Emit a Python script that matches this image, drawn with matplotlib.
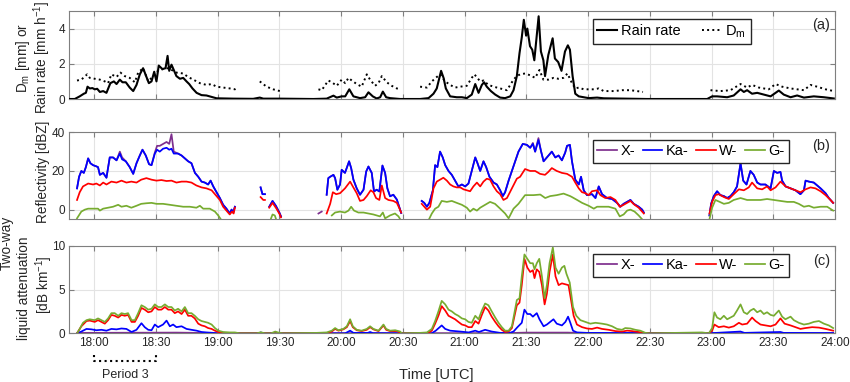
#!/usr/bin/env python3
"""
Rain rate / Dm, reflectivity and two-way liquid attenuation, 17:48-24:00 UTC.
Three stacked panels in the MATLAB look of the original figure.
"""
import numpy as np
import matplotlib
matplotlib.use("Agg")
import matplotlib.pyplot as plt
import matplotlib.transforms as mtransforms

plt.rcParams["font.family"] = ["Liberation Sans", "DejaVu Sans"]
plt.rcParams["mathtext.default"] = "regular"

N = np.nan

# ── Data: [minutes after 18:00 UTC, value], NaN rows break the line ──────
rain_rate = np.array([
    (-12.3, 0), (-9.4, 0), (-7, 0.15), (-5, 0.3), (-4, 0.35), (-3.2, 0.7), (-2.1, 0.6),
    (-0.8, 0.62), (0.3, 0.55), (1.5, 0.58), (2.8, 0.4), (4.4, 0.45), (6, 0.35), (7.9, 0.9),
    (9.6, 1.0), (10.9, 0.85), (12.5, 1.1), (13.8, 0.95), (15.4, 0.95), (17.3, 0.65),
    (19, 0.45), (20.6, 0.8), (22.2, 1.4), (23.8, 1.75), (25.1, 1.35), (26.6, 0.9),
    (27.9, 1.0), (29.2, 1.55), (30.3, 1.0), (31.4, 1.9), (33.2, 1.7), (34.7, 1.75),
    (35.7, 2.45), (36.5, 1.6), (37.6, 1.95), (38.7, 1.65), (40, 1.3), (41.7, 1.15),
    (43.3, 1.2), (44.9, 1.0), (46.2, 0.85), (47.8, 0.6), (49.8, 0.35), (52.2, 0.22),
    (54.6, 0.2), (57.1, 0.12), (59.5, 0.04), (67.6, 0.02), (77.3, 0.01), (80.5, 0.08),
    (82.2, 0.02), (90.3, 0.02), (106.5, 0), (113, 0.02), (116.3, 0.19), (117.9, 0.08),
    (120.3, 0.15), (122, 0.15), (124, 0.55), (126, 0.15), (129.2, 0.05), (131.7, 0.1),
    (133.3, 0.38), (135.4, 0.15), (137.3, 0.03), (139, 0.1), (140.3, 0.42), (141.9, 0.1),
    (143.8, 0.05), (148.7, 0), (158.4, 0), (162.5, 0.05), (164.9, 0.3), (166.5, 0.6),
    (168.6, 1.6), (169.8, 1.2), (170.9, 0.6), (173, 0.15), (176.2, 0.1), (178.7, 0.1),
    (181.1, 0.05), (183.5, 0.25), (185.2, 0.85), (186.8, 0.35), (188.4, 0.8), (189.5, 0.95),
    (190.8, 0.7), (192.8, 0.45), (194.9, 0.25), (197.3, 0.08), (199.7, 0.05), (202.2, 0.15),
    (203.8, 0.5), (205.4, 1.3), (206.7, 2.6), (207.8, 3.5), (208.8, 4.5), (209.9, 3.6),
    (210.5, 4.0), (211.8, 3.0), (212.9, 2.8), (213.9, 2.2), (215, 3.5), (216, 4.7),
    (217.1, 2.7), (218.3, 2.2), (219.1, 1.3), (220.7, 2.5), (222.8, 3.45), (223.9, 2.3),
    (225.5, 2.1), (227.1, 1.6), (228.8, 2.7), (230.2, 3.05), (231.2, 2.8), (232.5, 1.3),
    (233.8, 0.3), (235.5, 0.15), (237.9, 0.1), (240.3, 0.05), (244.4, 0.08), (247.6, 0.04),
    (252.5, 0.03), (259, 0.02), (268.7, 0), (297.9, 0), (300.3, 0.15), (302.7, 0.15),
    (307.6, 0.1), (310.8, 0.2), (314.1, 0.55), (315.7, 0.4), (317.3, 0.5), (319.7, 0.3),
    (322.2, 0.35), (325.4, 0.25), (328.7, 0.15), (332.7, 0.48), (335.1, 0.25), (338.4, 0.1),
    (341.6, 0.2), (344.9, 0.08), (349.7, 0.15), (354.6, 0.1), (359.4, 0.03),
])

dm = np.array([
    (-8.3, 1.05), (-6.2, 1.1), (-3.4, 1.4), (-2.1, 1.2), (0.3, 1.15), (2.8, 1.1), (5.2, 1.0),
    (6.8, 0.9), (8.4, 1.4), (10.9, 1.25), (12.8, 1.5), (14.9, 1.3), (17.3, 1.2), (19.8, 0.95),
    (21.4, 1.5), (23.8, 1.75), (26.3, 1.0), (28.7, 1.3), (31, 1.6), (33.5, 1.7), (36, 1.75),
    (38.5, 1.6), (40, 1.5), (43.3, 1.45), (45.7, 1.25), (48.2, 1.1), (51.4, 0.9), (54.6, 0.8),
    (57.1, 0.85), (59.5, 0.7), (62.7, 0.65), (66, 0.6), (68.4, 0.55), (69.2, 0.6), (70, N),
    (80.5, 1.0), (83.8, 0.7), (87, 0.55), (90.3, 0.45), (91, 0.5), (92, N),
    (109, 0.55), (110.6, 0.5), (113.8, 1.05), (115.5, 0.95), (117.9, 0.75), (120.3, 1.1),
    (122, 0.9), (123.6, 1.2), (125.2, 1.05), (127.6, 0.85), (130, 0.7), (132.5, 1.4),
    (134.1, 1.1), (136.5, 0.75), (138.2, 0.9), (139.8, 1.3), (142.2, 0.95), (144.6, 0.75),
    (147.1, 0.6), (149, 0.55), (150, N),
    (158.4, 0.7), (161.7, 0.65), (164.1, 1.0), (166.5, 1.25), (168.1, 1.4), (170.6, 1.0),
    (173, 0.8), (175.4, 0.65), (177.9, 0.7), (181.1, 0.75), (183.5, 1.2), (184.8, 1.4),
    (187.6, 1.0), (189.2, 1.05), (191.6, 0.8), (194.1, 0.7), (197.3, 0.6), (200.6, 0.5),
    (202.2, 0.8), (203.8, 1.1), (205.4, 1.3), (207, 1.4), (209.4, 1.45), (211.8, 1.35),
    (214.3, 1.2), (216.4, 1.65), (218.3, 1.1), (220.7, 1.1), (223.2, 1.2), (225.6, 1.15),
    (228, 1.2), (230, 1.45), (232.2, 0.9), (233.8, 0.6), (235.5, 0.65), (237.9, 0.55),
    (242.8, 0.55), (245.2, 0.6), (247.6, 0.45), (252.5, 0.45), (256.5, 0.5), (260.6, 0.5),
    (263.8, 0.45), (266.7, 0.4), (268, N),
    (299.5, 0.5), (304.3, 0.45), (309.2, 0.5), (314.1, 0.85), (317.3, 0.65), (319.7, 0.8),
    (323, 0.65), (327.8, 0.55), (331.1, 0.85), (334.3, 0.7), (338.4, 0.6), (341.6, 0.55),
    (344.9, 0.5), (348.1, 0.8), (351.3, 0.7), (355.4, 0.55), (359.4, 0.45),
])

# reflectivity [dBZ]
refl_x = np.array([
    (-8.3, 11), (-7.3, 17), (-6.2, 20), (-5, 19), (-4, 22), (-2.9, 26.5), (-1.8, 24),
    (-0.5, 23), (0.8, 22.5), (1.9, 22), (2.8, 18), (4.4, 19), (6, 16.5), (7.6, 27), (9.2, 27),
    (10.9, 25.5), (12.5, 30), (13.6, 27), (15.4, 25), (17.3, 22), (19, 18.5), (20.6, 24),
    (22.2, 28), (23.5, 31), (25.1, 28), (26.7, 23.5), (27.9, 23), (29.5, 29.5), (30.6, 33),
    (31.9, 33), (33.5, 34), (35.2, 35), (36.5, 34), (37.6, 39), (38.7, 30), (40.8, 29),
    (42.5, 28), (44.1, 26.5), (45.7, 25), (47.3, 24), (49, 19), (50.6, 17), (52.2, 14.5),
    (53.8, 14), (55.4, 13), (56.6, 15), (57.9, 12), (59.5, 9), (61.1, 6), (62.7, 2.5),
    (64.3, 0.5), (65.9, -2), (66.8, 0), (67.6, -1.5), (68.4, 1.5), (69, N),
    (80.9, 11.5), (81.8, 8), (83, 8), (84, N),
    (85.1, 1.5), (86.7, 4.5), (88.3, 2), (90, -1.5), (90.8, -3.5), (91, N),
    (109, -2), (110.6, -1), (111, N),
    (113, 7.7), (113.8, 16.3), (114.7, 17), (116.3, 18), (117.1, 16.3), (118.2, 10.3),
    (119.5, 13), (120.3, 20.6), (121.9, 19), (123.9, 25), (124.9, 21.5), (126, 15.5),
    (127.6, 11), (129.2, 7.7), (130.9, 10.3), (132.2, 19.7), (133.3, 22.3), (134.9, 19),
    (136, 9.4), (137.3, 10.3), (138.6, 9.4), (140.1, 22.8), (141.4, 19), (142.5, 11),
    (143.8, 6.9), (145.4, 7.7), (147.1, 5.2), (148.7, 0), (149.2, -1.7), (150, N),
    (159.2, 4.5), (160.4, 3.5), (161.7, 1.5), (162.9, 3.5), (164.6, 10), (165.7, 23),
    (166.8, 22), (168.1, 30), (169.4, 27), (170.6, 23), (172.2, 20), (173.8, 18), (175.4, 15),
    (177, 12), (178.7, 13), (180.3, 12), (181.9, 13.5), (183.5, 20), (185.2, 27), (186.3, 24),
    (187.6, 20), (189.2, 25), (190.5, 22), (192.1, 17), (194.1, 14), (195.7, 13), (197.3, 10),
    (198.6, 7), (199.7, 9), (201.4, 15), (203, 20), (204.6, 25), (206.2, 30), (208.3, 34),
    (210.3, 33.5), (211.9, 32), (213.2, 34.5), (214.3, 30), (215.9, 37), (217.1, 30.5),
    (218.4, 25), (220, 27), (222.4, 30), (224.1, 27), (225.7, 28), (227.3, 25.5),
    (228.9, 29.5), (229.8, 33), (231.2, 33.5), (232.2, 25), (233.8, 15.5), (235.5, 13),
    (236.6, 17), (237.9, 10), (239.5, 7.5), (241.9, 8), (243.6, 6), (245.2, 12), (246.8, 8),
    (249.2, 6), (251.7, 5.5), (254.1, 3.5), (255.7, 1.5), (257.3, 3), (259, 4), (260.6, 5),
    (262.2, 3), (264.6, 1.5), (266.3, 0), (267.1, -1.5), (268, N),
    (299, -3), (299.8, 3), (301.1, 7), (302.7, 9.5), (304.3, 7.5), (306, 7), (307.6, 6),
    (309.2, 7), (310.8, 9), (312.4, 12), (314.1, 24), (315.4, 15), (317, 13), (318.9, 20),
    (320.5, 18), (322.2, 14), (323.8, 13), (326.2, 13), (328.7, 11), (330.3, 20), (331.9, 19),
    (333.5, 19.5), (334.3, 15), (336, 12), (338.4, 11), (340.8, 10), (343.2, 8), (344.9, 10),
    (345.7, 15), (347.3, 14.5), (349.7, 14), (353, 11), (355.4, 8.5), (357, 6), (359.1, 3.5),
])

refl_ka = np.array([
    (-8.3, 11), (-7.3, 17), (-6.2, 20), (-5, 19), (-4, 22), (-2.9, 26.5), (-1.8, 24),
    (-0.5, 23), (0.8, 22.5), (1.9, 22), (2.8, 18), (4.4, 19), (6, 16.5), (7.6, 27), (9.2, 27),
    (10.9, 25.5), (12.5, 29), (13.6, 26), (15.4, 25), (17.3, 22), (19, 18.5), (20.6, 24),
    (22.2, 28), (23.5, 31), (25.1, 28), (26.7, 23.5), (27.9, 23), (29.5, 29), (30.6, 31),
    (31.9, 30), (33.5, 31.5), (35.2, 32), (36.5, 31), (37.6, 31.5), (38.7, 29), (40.8, 29),
    (42.5, 28), (44.1, 26.5), (45.7, 25), (47.3, 24), (49, 19), (50.6, 17), (52.2, 14.5),
    (53.8, 14), (55.4, 13), (56.6, 15), (57.9, 12), (59.5, 9), (61.1, 6), (62.7, 2.5),
    (64.3, 0.5), (65.9, -2), (66.8, 0), (67.6, -1.5), (68.4, 1.5), (69, N),
    (80.9, 11.5), (81.8, 8), (83, 8), (84, N),
    (85.1, 1.5), (86.7, 4.5), (88.3, 2), (90, -1.5), (90.8, -3.5), (91, N),
    (113, 7.7), (113.8, 16.3), (114.7, 17), (116.3, 18), (117.1, 16.3), (118.2, 10.3),
    (119.5, 13), (120.3, 20.6), (121.9, 19), (123.9, 25), (124.9, 21.5), (126, 15.5),
    (127.6, 11), (129.2, 7.7), (130.9, 10.3), (132.2, 19.7), (133.3, 22.3), (134.9, 19),
    (136, 9.4), (137.3, 10.3), (138.6, 9.4), (140.1, 22.8), (141.4, 19), (142.5, 11),
    (143.8, 6.9), (145.4, 7.7), (147.1, 5.2), (148.7, 0), (149.2, -1.7), (150, N),
    (159.2, 4.5), (160.4, 3.5), (161.7, 1.5), (162.9, 3.5), (164.6, 10), (165.7, 23),
    (166.8, 22), (168.1, 30), (169.4, 27), (170.6, 23), (172.2, 20), (173.8, 18), (175.4, 15),
    (177, 12), (178.7, 13), (180.3, 12), (181.9, 13.5), (183.5, 20), (185.2, 27), (186.3, 24),
    (187.6, 20), (189.2, 25), (190.5, 22), (192.1, 17), (194.1, 14), (195.7, 13), (197.3, 10),
    (198.6, 7), (199.7, 9), (201.4, 15), (203, 20), (204.6, 25), (206.2, 30), (208.3, 34),
    (210.3, 33.5), (211.9, 32), (213.2, 34), (214.3, 30), (215.9, 36), (217.1, 30.5),
    (218.4, 25), (220, 27), (222.4, 30), (224.1, 27), (225.7, 28), (227.3, 25.5),
    (228.9, 29.5), (229.8, 33), (231.2, 33.5), (232.2, 25), (233.8, 15.5), (235.5, 13),
    (236.6, 17), (237.9, 10), (239.5, 7.5), (241.9, 8), (243.6, 6), (245.2, 12), (246.8, 8),
    (249.2, 6), (251.7, 5.5), (254.1, 3.5), (255.7, 1.5), (257.3, 3), (259, 4), (260.6, 5),
    (262.2, 3), (264.6, 1.5), (266.3, 0), (267.1, -1.5), (268, N),
    (299, -3), (299.8, 3), (301.1, 7), (302.7, 9.5), (304.3, 7.5), (306, 7), (307.6, 6),
    (309.2, 7), (310.8, 9), (312.4, 12), (314.1, 24), (315.4, 15), (317, 13), (318.9, 20),
    (320.5, 18), (322.2, 14), (323.8, 13), (326.2, 13), (328.7, 11), (330.3, 20), (331.9, 19),
    (333.5, 19.5), (334.3, 15), (336, 12), (338.4, 11), (340.8, 10), (343.2, 8), (344.9, 10),
    (345.7, 15), (347.3, 14.5), (349.7, 14), (353, 11), (355.4, 8.5), (357, 6), (359.1, 3.5),
])

refl_w = np.array([
    (-8.3, 5), (-7, 9), (-5.4, 12), (-2.9, 13.5), (-0.5, 13), (1.1, 13.5), (2.8, 12.5),
    (4.4, 14), (6, 13), (8.4, 14.5), (10.9, 14), (13.3, 15), (15.7, 14), (18.1, 14.5),
    (20.6, 14), (22.9, 15.5), (25.4, 16.3), (27.9, 15.5), (30.3, 15), (32.7, 15.3),
    (35.2, 14.8), (37.6, 15), (40, 14), (42.5, 14.5), (44.9, 14.5), (47.3, 14), (49.7, 12.5),
    (52.2, 11.5), (54.6, 11), (57.1, 10), (58.7, 8), (61.1, 5), (62.7, 1.5), (64.3, -0.5),
    (65.9, -2.5), (67, -1), (67.8, -2), (68.4, 1), (69, N),
    (80.9, 6.5), (82.2, 5), (83, 5), (84, N),
    (85.1, 1), (86.7, 3.5), (88.6, 0.5), (90.2, -2.5), (90.8, -4), (91, N),
    (113, -2), (114.7, 3), (116, 9), (117.6, 8), (119.5, 8.5), (121.9, 11), (124.4, 14.5),
    (125.7, 12), (127.6, 8.5), (129.2, 4.5), (130.9, 5), (132.5, 7), (134.4, 10), (135.7, 9),
    (137, 6), (138.6, 5), (139.8, 12.5), (141.4, 6), (143, 5), (145.4, 4.5), (147.1, 3.5),
    (148.4, 0.5), (149.2, -1.5), (150, N),
    (159.2, 3), (161.7, 0), (163.3, 1.5), (164.9, 11), (166.5, 14.5), (168.1, 15.5),
    (169.7, 16.5), (171.4, 15), (173, 13), (174.6, 12), (176.2, 11.5), (177.9, 11.5),
    (179.5, 10.5), (181.1, 10), (182.7, 9.5), (184.3, 12), (186, 14), (187.6, 12),
    (189.2, 14.5), (190.8, 16), (192.4, 15.5), (194.1, 12), (195.7, 9.5), (197.3, 8),
    (198.9, 5), (200.6, 6), (203, 11), (205.4, 16), (207, 17), (209.4, 21), (211.9, 20),
    (214.3, 20), (216.7, 18.5), (219.1, 18), (220.7, 19.5), (222.4, 21.5), (224.8, 20),
    (227.3, 19), (229.8, 18.5), (232.2, 17), (233.8, 14), (235.5, 11), (237.1, 9),
    (238.7, 8.5), (240.3, 7.5), (241.9, 9.5), (244.4, 10), (246, 7.5), (248.4, 6),
    (250.9, 6.5), (253.3, 5), (255.4, 1.5), (257.3, 2.5), (259, 3.5), (260.6, 4.5),
    (262.6, 2.5), (264.6, 1), (266.3, -1), (267.1, -2), (268, N),
    (299, -2), (300.3, 4), (301.9, 7.5), (303.5, 8), (306, 6.5), (308.4, 5.5), (310.8, 8),
    (313.3, 10.5), (315.7, 10), (318.1, 11.5), (319.7, 14), (322.2, 11), (324.6, 10.5),
    (327, 12), (328.7, 10), (331.1, 11.5), (333.5, 14.5), (336, 12), (338.4, 11),
    (340.8, 10), (343.2, 9), (345.7, 10.5), (348.1, 11.5), (350.5, 11), (353, 9.5),
    (355.4, 7.5), (357.8, 5), (359.1, 3.5),
])

refl_g = np.array([
    (-8.3, -4.5), (-6.2, -1), (-4.5, 0), (-2.9, 0.5), (-0.5, 0.5), (1.9, 0.5), (2.8, -0.5),
    (4.4, 0.5), (6.8, 1), (9.2, 1.5), (11.7, 2.5), (13.3, 1.5), (15.7, 2), (18.1, 1),
    (20.6, 2), (22.9, 3), (25.4, 3.3), (27.9, 3.5), (30.3, 3), (33.5, 3), (36.8, 2.5),
    (40, 2), (43.3, 1.5), (46.5, 1.5), (49.7, 1), (51.4, 2), (53, 0.5), (56.2, 0.5),
    (58.7, -1), (60.3, -3), (61.9, -5.5), (62, N),
    (85.8, -5), (86.7, -2.5), (87.8, -3), (88.6, -5.5), (89, N),
    (115.5, -3), (117.1, -1.5), (119.5, -1), (121.9, -1.5), (123.6, -0.5), (124.9, 1.5),
    (126.3, -0.5), (128.4, -1.5), (130.9, -1.5), (133.3, -2), (135.7, -2.5), (138.9, -3.5),
    (140.3, -1.5), (141.4, -4.5), (143.8, -3), (146.2, -2), (147.9, -3.5), (149, -5.5),
    (150, N),
    (162.5, -5.5), (164.1, -2), (165.7, 0.5), (167.3, 1.5), (168.9, 4.5), (171.4, 4),
    (173.8, 4.5), (176.2, 3.5), (178.7, 2.5), (181.1, 1), (182.7, -1), (184.3, 0.5),
    (186, -0.5), (187.6, 1), (190, 2.5), (192.4, 4), (194.8, 3), (197.3, 0.5), (199.7, -2),
    (201.4, -4.5), (203.8, 0.5), (206.2, 3), (209.4, 7.5), (213.5, 7.5), (216.8, 7.8),
    (219.2, 6), (221.6, 7), (224.8, 7.5), (228.1, 8.3), (231.3, 7), (232.2, 6.5),
    (234.7, 5), (237.1, 3.5), (240.3, 2), (242.8, 0.5), (244.4, 1.5), (246.8, 1.5),
    (250, 1.5), (253.3, 0.5), (255.4, -3.5), (257.3, -2.5), (259, -0.5), (260.6, 0),
    (262.6, -1), (264.6, -3), (266.7, -5.5), (268, N),
    (299, -5), (300.3, 1), (301.9, 5), (304, 4), (306, 3), (308.4, 3.5), (310.8, 5),
    (314.1, 6), (317.3, 5), (320.5, 5), (323.8, 5), (327, 5.5), (330.3, 5), (333.5, 4.5),
    (336.8, 4), (340, 4), (342.4, 3), (344.9, 1.5), (347.3, 2), (349.7, 1), (353, 1.5),
    (356.2, 1.5), (359.1, -0.5),
])

# two-way liquid attenuation [dB km-1]
att_x = np.array([
    (-8.3, 0), (-6, 0.05), (40, 0.08), (60, 0.02), (200, 0.02), (210, 0.08), (230, 0.08),
    (240, 0.02), (359.1, 0.02),
])

att_ka = np.array([
    (-8.3, 0), (-6.2, 0.2), (-3.7, 0.5), (-1.3, 0.45), (1.1, 0.35), (3.6, 0.4), (6, 0.3),
    (8.4, 0.5), (10.9, 0.45), (13.3, 0.55), (15.7, 0.5), (18.2, 0.15), (20.6, 0.4),
    (23, 1.15), (24.6, 0.7), (26.3, 0.4), (27.9, 0.35), (29.5, 1.0), (31.1, 0.7), (33.5, 1.0),
    (35.2, 1.45), (36.8, 0.8), (38.4, 1.0), (40, 0.7), (42.5, 0.8), (44.9, 0.5), (47.3, 0.4),
    (49.8, 0.3), (52.2, 0.15), (54.6, 0.1), (57.9, 0.05), (60, 0), (80, 0), (81, 0.1),
    (82, 0), (122, 0), (124.4, 0.3), (126, 0.05), (133, 0.05), (134.1, 0.15), (135.5, 0.02),
    (164, 0), (166, 0.3), (168.9, 0.9), (170.6, 0.5), (173, 0.3), (177.9, 0.2), (182, 0.1),
    (185.2, 0.3), (187, 0.15), (190, 0.4), (193.2, 0.2), (197.3, 0.05), (202, 0.05),
    (203.8, 0.2), (205.7, 0.7), (207.8, 1.2), (209.1, 2.7), (210.5, 2.2), (211.9, 2.2),
    (213.2, 1.9), (215.1, 2.3), (216.4, 1.6), (218.4, 0.8), (220, 1.0), (221.6, 1.3),
    (223.2, 1.6), (224.8, 1.1), (227.3, 0.9), (229, 1.3), (230.3, 1.9), (231.4, 1.2),
    (232.7, 0.3), (234.6, 0.1), (239.5, 0.05), (300, 0.02), (314.1, 0.2), (316, 0.05),
    (333.5, 0.15), (335, 0.05), (359.1, 0.03),
])

att_w = np.array([
    (-8.3, 0), (-6.2, 0.8), (-3.7, 1.4), (-2.1, 1.45), (0.3, 1.3), (1.9, 1.5), (3.6, 1.3),
    (5.2, 1.1), (6.8, 1.5), (8.4, 2.1), (10, 2.0), (11.7, 1.8), (13.3, 2.1), (14.9, 2.0),
    (16.5, 2.1), (18.2, 1.3), (19.8, 1.3), (21.4, 2.0), (23, 2.9), (24.6, 2.7), (26.3, 2.4),
    (27.9, 2.5), (29.5, 3.0), (31.1, 2.7), (32.7, 2.7), (34.4, 3.0), (36, 2.7), (37.6, 2.7),
    (39.2, 2.3), (40.8, 2.5), (42.5, 2.2), (44.1, 2.7), (45.7, 2.0), (47.3, 2.0), (48.9, 1.7),
    (50.6, 1.1), (52.2, 0.9), (53.8, 0.8), (55.4, 0.6), (57.1, 0.5), (58.7, 0.3),
    (60.3, 0.15), (62.7, 0.05), (66, 0), (113, 0), (115.5, 0.2), (117.1, 0.5), (118.7, 0.3),
    (121.1, 0.45), (122.8, 0.7), (124.4, 1.4), (125.7, 0.7), (127.6, 0.35), (130, 0.25),
    (132.5, 0.4), (134.1, 0.7), (135.7, 0.45), (138.2, 0.25), (140.6, 0.9), (141.9, 0.4),
    (143.8, 0.25), (147.1, 0.25), (149.5, 0), (162, 0), (164.1, 0.3), (165.7, 1.1),
    (167.3, 2.0), (168.9, 3.1), (170.6, 2.6), (172.2, 2.0), (173.8, 1.8), (175.4, 1.6),
    (177, 1.3), (178.7, 1.0), (180.3, 0.9), (181.9, 0.7), (183.5, 0.7), (185.2, 1.4),
    (186.8, 1.1), (188.4, 2.1), (190, 3.0), (191.6, 2.6), (193.2, 1.9), (194.9, 1.3),
    (196.5, 0.8), (198.1, 0.4), (199.7, 0.15), (201.4, 0.2), (203, 0.6), (204.1, 1.8),
    (205.4, 3.2), (206.7, 3.5), (207.8, 5.5), (209.1, 8.5), (210.5, 7.5), (211.9, 7.0),
    (213.2, 7.2), (214, 6.3), (215.1, 7.3), (216.3, 7.0), (217.6, 5.5), (218.9, 3.3),
    (220, 4.5), (221.3, 7.0), (222.9, 9.0), (224.2, 6.5), (225.7, 5.5), (227.3, 5.7),
    (228.9, 5.6), (230.5, 5.5), (231.6, 4.0), (233, 2.0), (234.6, 1.0), (237.1, 0.7),
    (239.5, 0.55), (241.9, 0.5), (244.4, 0.65), (246.8, 0.5), (250, 0.4), (253.3, 0.25),
    (256.5, 0.2), (259, 0.3), (261.4, 0.25), (264.6, 0.15), (267.1, 0.05), (270, 0),
    (298.7, 0), (300.3, 0.3), (301.4, 1.0), (303.5, 0.7), (306, 0.8), (308.4, 0.65),
    (310.8, 0.8), (313.3, 1.2), (314.9, 1.0), (317.3, 1.1), (319.7, 1.8), (321.4, 1.4),
    (323.8, 1.0), (326.2, 0.9), (328.7, 0.8), (331.1, 1.0), (333.5, 1.7), (335.5, 1.1),
    (338.4, 0.9), (340.8, 0.7), (343.2, 0.5), (345.7, 0.6), (348.9, 0.7), (352.2, 0.65),
    (355.4, 0.5), (359.1, 0.3),
])

att_g = np.array([
    (-8.3, 0), (-7, 0.5), (-5.4, 1.2), (-3.7, 1.5), (-2.1, 1.6), (0.3, 1.5), (1.9, 1.7),
    (3.6, 1.5), (5.2, 1.3), (6.8, 1.7), (8.4, 2.3), (10, 2.3), (11.7, 2.0), (13.3, 2.3),
    (14.9, 2.2), (16.5, 2.3), (18.2, 1.5), (19.8, 1.5), (21.4, 2.3), (23, 3.2), (24.6, 3.0),
    (26.3, 2.7), (27.9, 2.8), (29.5, 3.3), (31.1, 3.0), (32.7, 3.0), (34.4, 3.3), (36, 3.0),
    (37.6, 3.0), (39.2, 2.6), (40.8, 2.8), (42.5, 2.5), (44.1, 3.0), (45.7, 2.3), (47.3, 2.3),
    (48.9, 2.0), (50.6, 1.6), (52.2, 1.4), (53.8, 1.3), (55.4, 1.2), (57.1, 1.0), (58.7, 0.6),
    (60.3, 0.3), (62.7, 0.15), (66, 0.1), (68.4, 0.1), (70.8, 0), (79, 0), (81, 0.12),
    (83, 0), (86, 0), (88, 0.2), (90, 0.05), (92, 0), (108.2, 0.05), (113, 0.1),
    (115.5, 0.3), (117.1, 0.6), (118.7, 0.35), (121.1, 0.5), (122.8, 0.8), (124.4, 1.6),
    (125.7, 0.8), (127.6, 0.4), (130, 0.3), (132.5, 0.5), (134.1, 0.8), (135.7, 0.5),
    (138.2, 0.3), (140.6, 1.0), (141.9, 0.5), (143.8, 0.3), (146.3, 0.35), (148.7, 0.2),
    (149.5, 0), (158.4, 0.05), (161.7, 0.1), (164.1, 0.5), (165.7, 1.4), (167.3, 2.5),
    (168.9, 3.7), (170.6, 3.3), (172.2, 2.7), (173.8, 2.5), (175.4, 2.2), (177, 2.0),
    (178.7, 1.7), (180.3, 1.6), (181.9, 1.3), (183.5, 1.2), (185.2, 2.0), (186.8, 1.6),
    (188.4, 2.6), (190, 3.4), (191.6, 3.2), (193.2, 2.5), (194.9, 1.8), (196.5, 1.2),
    (198.1, 0.7), (199.7, 0.3), (201.4, 0.3), (203, 0.8), (204.1, 2.2), (205.4, 3.8),
    (206.7, 4.0), (207.8, 6.5), (209.1, 9.0), (210.5, 8.5), (211.9, 8.0), (213.2, 8.0),
    (214, 7.3), (215.1, 8.0), (216.3, 8.5), (217.6, 6.5), (218.9, 4.0), (220, 5.5),
    (221.3, 8.0), (222.9, 9.8), (224.2, 7.5), (225.7, 6.8), (227.3, 7.5), (228.5, 7.7),
    (229.5, 6.8), (231.1, 5.8), (232.7, 3.0), (234.3, 2.0), (236.3, 1.5), (238.7, 1.3),
    (241.1, 1.1), (243.6, 1.2), (246.8, 1.1), (249.2, 1.0), (251.7, 0.8), (254.1, 0.5),
    (256.5, 0.4), (258.1, 0.6), (260.6, 0.55), (263, 0.4), (265.4, 0.3), (267.9, 0.05),
    (270, 0), (295.4, 0.1), (298.7, 0), (300.3, 0.6), (301.4, 2.4), (302.7, 1.8),
    (304.3, 1.6), (306, 2.0), (307.6, 1.6), (309.2, 1.8), (310.8, 2.0), (312.4, 2.6),
    (314.1, 3.3), (315.7, 2.4), (317.3, 2.2), (318.9, 2.6), (320.5, 2.8), (322.2, 2.4),
    (323.8, 2.6), (325.4, 2.2), (327, 2.4), (328.7, 2.1), (330.3, 2.0), (332.7, 2.6),
    (334.3, 1.9), (335.9, 1.6), (338.4, 1.9), (340, 1.5), (342.4, 1.2), (344.9, 1.0),
    (347.3, 1.1), (349.7, 1.3), (352.2, 1.4), (354.6, 1.1), (357, 0.9), (359.1, 0.6),
])

tick_hours = [18, 18.5, 19, 19.5, 20, 20.5, 21, 21.5, 22, 22.5, 23, 23.5, 24]
tick_labels = ["18:00", "18:30", "19:00", "19:30", "20:00", "20:30", "21:00",
               "21:30", "22:00", "22:30", "23:00", "23:30", "24:00"]

# ── Style ─────────────────────────────────────────────────────────────────
C_X, C_KA, C_W, C_G = "#7E2F8E", "#0000FF", "#FF0000", "#77AC30"
SPINE = "#7F7F7F"
GRID = "#E3E3E3"
LW = 1.25


def hours(a):
    return 18 + a[:, 0] / 60.0


def style_axes(ax, ylim, yticks, show_x):
    ax.set_xlim(17 + 47.8 / 60, 24)
    ax.set_ylim(*ylim)
    ax.set_yticks(yticks)
    ax.set_xticks(tick_hours)
    ax.set_xticklabels(tick_labels if show_x else [])
    ax.grid(True, color=GRID, linewidth=0.8, zorder=0)
    ax.set_axisbelow(True)
    for sp in ax.spines.values():
        sp.set_color(SPINE)
        sp.set_linewidth(0.8)
    ax.tick_params(direction="in", length=3.5, width=0.8, color=SPINE,
                   top=True, right=True, labelsize=8.5, labelcolor="#262626", pad=3)


def add_legend(ax, top, colsp=0.5):
    leg = ax.legend(loc="upper left", bbox_to_anchor=(0.684, top), borderaxespad=0,
                    ncol=4, fontsize=10.5, frameon=True, fancybox=False, framealpha=1,
                    edgecolor="#262626", handlelength=1.35, handletextpad=0.25,
                    columnspacing=colsp, borderpad=0.3)
    leg.get_frame().set_linewidth(1.0)
    return leg


fig = plt.figure(figsize=(8.5, 3.82), dpi=100)
L, W_AX = 69 / 850, 766 / 850
ax1 = fig.add_axes([L, 1 - 99 / 382, W_AX, 88 / 382])
ax2 = fig.add_axes([L, 1 - 219.3 / 382, W_AX, 87 / 382])
ax3 = fig.add_axes([L, 1 - 333.3 / 382, W_AX, 87.6 / 382])

# (a) rain rate and Dm
ax1.plot(hours(rain_rate), rain_rate[:, 1], color="black", lw=1.5, label="Rain rate", zorder=3)
ax1.plot(hours(dm), dm[:, 1], color="black", lw=1.4, ls=":", label="D$_m$", zorder=2)
style_axes(ax1, (0, 5), [0, 2, 4], False)
add_legend(ax1, 0.909, colsp=1.5)

# (b) reflectivity
ax2.plot(hours(refl_x), refl_x[:, 1], color=C_X, lw=LW, label="X-")
ax2.plot(hours(refl_ka), refl_ka[:, 1], color=C_KA, lw=LW, label="Ka-")
ax2.plot(hours(refl_w), refl_w[:, 1], color=C_W, lw=LW, label="W-")
ax2.plot(hours(refl_g), refl_g[:, 1], color=C_G, lw=LW, label="G-")
style_axes(ax2, (-5, 40), [0, 20, 40], False)
add_legend(ax2, 0.911)

# (c) two-way liquid attenuation
ax3.plot(hours(att_x), att_x[:, 1], color=C_X, lw=LW, label="X-")
ax3.plot(hours(att_ka), att_ka[:, 1], color=C_KA, lw=LW, label="Ka-")
ax3.plot(hours(att_w), att_w[:, 1], color=C_W, lw=LW, label="W-")
ax3.plot(hours(att_g), att_g[:, 1], color=C_G, lw=LW, label="G-")
style_axes(ax3, (0, 10), [0, 5, 10], True)
add_legend(ax3, 0.905)

for ax, tag, yy in ((ax1, "(a)", 0.84), (ax2, "(b)", 0.84), (ax3, "(c)", 0.83)):
    ax.text(0.982, yy, tag, transform=ax.transAxes, ha="center", va="center",
            fontsize=10.5, color="#262626")

# y labels, one text per line (baseline x in px, centre y in px)
ylab_lines = [
    ("D$_m$ [mm] or", 27, 57.5),
    ("Rain rate [mm h$^{-1}$]", 47, 57),
    ("Reflectivity [dBZ]", 47, 171.7),
    ("Two-way", 11, 243),
    ("liquid attenuation", 28, 288),
    ("[dB km$^{-1}$]", 49, 285),
]
for txt, bx, cy in ylab_lines:
    fig.text(bx / 850, 1 - cy / 382, txt, rotation=90, rotation_mode="anchor",
             ha="center", va="baseline", fontsize=9.8, color="#262626")

ax3.text(0.48, -0.475, "Time [UTC]", transform=ax3.transAxes, ha="center",
         va="center", fontsize=10.5, color="#262626")

# Period 3 bracket under the time axis
trans = mtransforms.blended_transform_factory(ax3.transData, ax3.transAxes)
ax3.plot([18.0, 18.0, 18.5, 18.5], [-0.25, -0.32, -0.32, -0.25], transform=trans,
         color="black", lw=1.5, ls=":", clip_on=False)
ax3.text(18.25, -0.475, "Period 3", transform=trans, ha="center", va="center",
         fontsize=9, color="#262626")

fig.savefig("out.png", dpi=100, facecolor="white")
plt.close(fig)
